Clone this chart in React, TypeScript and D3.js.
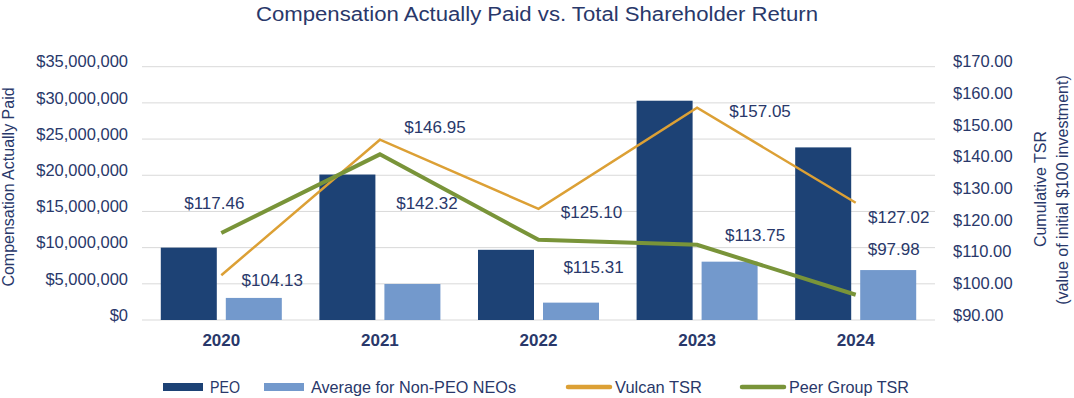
import React from 'react';
import * as d3 from 'd3';

// chart data
const years = ['2020', '2021', '2022', '2023', '2024'];
const peo = [10000000, 20100000, 9700000, 30300000, 23850000];
const nonPeo = [3050000, 4980000, 2400000, 8060000, 6900000];
const vulcanTsr = [104.13, 146.95, 125.1, 157.05, 127.02];
const peerTsr = [117.46, 142.32, 115.31, 113.75, 97.98];

const leftTicks = [0, 5000000, 10000000, 15000000, 20000000, 25000000, 30000000, 35000000];
const rightTicks = [90, 100, 110, 120, 130, 140, 150, 160, 170];

const W = 1074;
const H = 398;
const TEXT = '#29386a';
const NAVY = '#1d4275';
const LIGHT = '#7399cc';
const ORANGE = '#dca035';
const GREEN = '#799439';
const FONT = '"Liberation Sans", Arial, sans-serif';

// where the data labels sit relative to their point (dx, dy of the text centre)
const vulcanLabelShift = [[51, 5], [55, -13], [53, 3], [63, 3], [43, 14]];
const peerLabelShift = [[-7, -30], [47, 49], [55, 27], [58, -10], [38, -46]];

const App: React.FC = () => {
  const left = 142, right = 935, top = 66.7, bottom = 320;

  const x0 = d3.scaleBand<string>().domain(years).range([left, right])
    .paddingInner(0.237).paddingOuter(0.1185);
  const x1 = d3.scaleBand<string>().domain(['peo', 'nonPeo'])
    .range([0, x0.bandwidth()]).paddingInner(0.1385);
  const yL = d3.scaleLinear().domain([0, 35000000]).range([bottom, top]);
  const yR = d3.scaleLinear().domain([90, 170]).range([bottom, top]);

  const cx = (i: number) => (x0(years[i]) as number) + x0.bandwidth() / 2;
  const line = d3.line<number>().x((_, i) => cx(i)).y(d => yR(d));

  const money = d3.format('$,.0f');
  const tsr = d3.format('$.2f');

  const legend = [
    { kind: 'bar', color: NAVY, label: 'PEO', x: 163, w: 30 },
    { kind: 'bar', color: LIGHT, label: 'Average for Non-PEO NEOs', x: 264, w: 205 },
    { kind: 'line', color: ORANGE, label: 'Vulcan TSR', x: 568, w: 87 },
    { kind: 'line', color: GREEN, label: 'Peer Group TSR', x: 742, w: 120 },
  ];

  return (
    <svg width={W} height={H} style={{ position: 'absolute', left: 0, top: 0, background: '#fff' }}
      fontFamily={FONT}>
      <text x={W / 2} y={20.5} textAnchor="middle" fontSize={20} fill={TEXT}
        textLength={562} lengthAdjust="spacingAndGlyphs">
        Compensation Actually Paid vs. Total Shareholder Return
      </text>

      {/* gridlines */}
      {leftTicks.map(t => (
        <line key={`g-${t}`} x1={left} x2={right} y1={yL(t)} y2={yL(t)} stroke="#d9d9d9" strokeWidth={1} />
      ))}

      {/* left axis */}
      {leftTicks.map(t => (
        <text key={`l-${t}`} x={128} y={yL(t) - 5} dy="0.35em" textAnchor="end" fontSize={16.5} fill={TEXT}>
          {money(t)}
        </text>
      ))}
      <text transform={`translate(14,187) rotate(-90)`} textAnchor="middle" fontSize={16} fill={TEXT}>
        Compensation Actually Paid
      </text>

      {/* right axis */}
      {rightTicks.map(t => (
        <text key={`r-${t}`} x={953} y={yR(t) - 5} dy="0.35em" fontSize={16.5} fill={TEXT}>
          {tsr(t)}
        </text>
      ))}
      <text transform={`translate(1046,189) rotate(-90)`} textAnchor="middle" fontSize={16} fill={TEXT}>
        Cumulative TSR
      </text>
      <text transform={`translate(1068,190) rotate(-90)`} textAnchor="middle" fontSize={16} fill={TEXT}>
        (value of initial $100 investment)
      </text>

      {/* bars */}
      {years.map((yr, i) => (
        <g key={`b-${yr}`} transform={`translate(${x0(yr)},0)`}>
          <rect x={x1('peo')} y={yL(peo[i])} width={x1.bandwidth()} height={bottom - yL(peo[i])} fill={NAVY} />
          <rect x={x1('nonPeo')} y={yL(nonPeo[i])} width={x1.bandwidth()} height={bottom - yL(nonPeo[i])} fill={LIGHT} />
        </g>
      ))}

      {/* category labels */}
      {years.map((yr, i) => (
        <text key={`c-${yr}`} x={cx(i)} y={340} dy="0.35em" textAnchor="middle" fontSize={17}
          fontWeight="bold" fill={TEXT}>
          {yr}
        </text>
      ))}

      {/* TSR lines */}
      <path d={line(vulcanTsr) ?? ''} fill="none" stroke={ORANGE} strokeWidth={2.5} />
      <path d={line(peerTsr) ?? ''} fill="none" stroke={GREEN} strokeWidth={4} />

      {/* data labels */}
      {vulcanTsr.map((v, i) => (
        <text key={`vl-${i}`} x={cx(i) + vulcanLabelShift[i][0]} y={yR(v) + vulcanLabelShift[i][1]}
          dy="0.35em" textAnchor="middle" fontSize={17} fill={TEXT}>
          {tsr(v)}
        </text>
      ))}
      {peerTsr.map((v, i) => (
        <text key={`pl-${i}`} x={cx(i) + peerLabelShift[i][0]} y={yR(v) + peerLabelShift[i][1]}
          dy="0.35em" textAnchor="middle" fontSize={17} fill={TEXT}>
          {tsr(v)}
        </text>
      ))}

      {/* legend */}
      {legend.map(l => (
        <g key={l.label}>
          {l.kind === 'bar'
            ? <rect x={l.x} y={383} width={40} height={8} fill={l.color} />
            : <line x1={l.x} x2={l.x + 42} y1={387} y2={387} stroke={l.color} strokeWidth={4.5} strokeLinecap="round" />}
          <text x={l.x + 47} y={387} dy="0.35em" fontSize={17} fill={TEXT}
            textLength={l.w} lengthAdjust="spacingAndGlyphs">
            {l.label}
          </text>
        </g>
      ))}
    </svg>
  );
};

export default App;
